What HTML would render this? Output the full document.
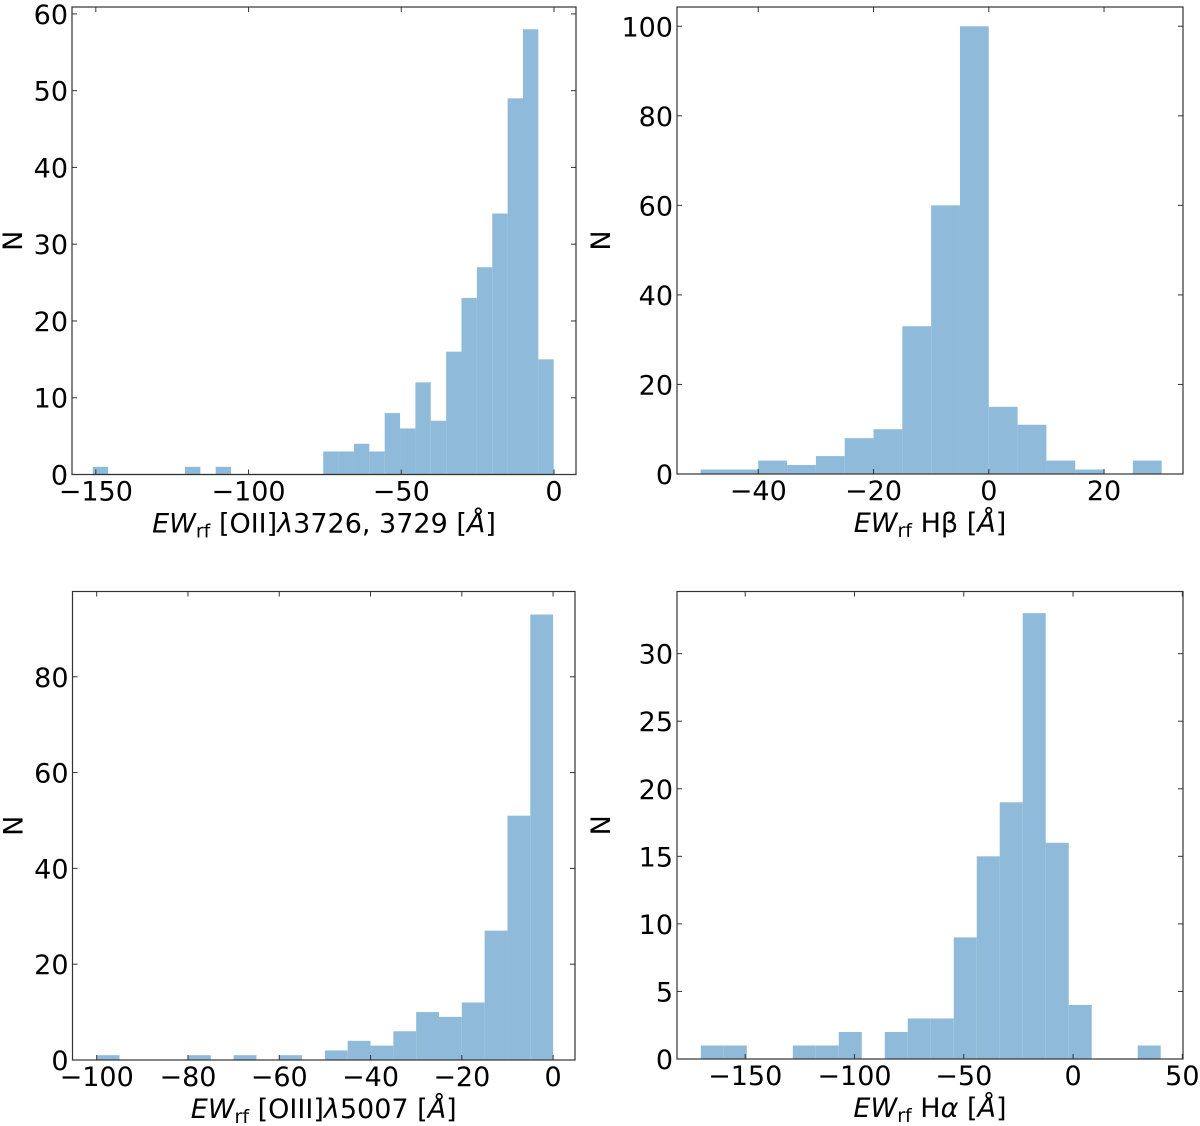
<!DOCTYPE html>
<html><head><meta charset="utf-8"><style>
html,body{margin:0;padding:0;background:#fff;}
svg{display:block;font-family:"DejaVu Sans","Liberation Sans",sans-serif;}
</style></head><body>
<svg id="fig" width="1200" height="1126" viewBox="0 0 1200 1126"></svg>
<script>
// Panel 1: [OII]
const p1Start = -151, p1Width = 5.03;
const p1Counts = [1,0,0,0,0,0,1,0,1,0,0,0,0,0,0,3,3,4,3,8,6,12,7,16,23,27,34,49,58,15];
const p1XTicks = [-150,-100,-50,0];
const p1YTicks = [0,10,20,30,40,50,60];
// Panel 2: Hbeta
const p2Start = -50, p2Width = 5;
const p2Counts = [1,1,3,2,4,8,10,33,60,100,15,11,3,1,0,3];
const p2XTicks = [-40,-20,0,20];
const p2YTicks = [0,20,40,60,80,100];
// Panel 3: [OIII]
const p3Start = -100, p3Width = 5;
const p3Counts = [1,0,0,0,1,0,1,0,1,0,2,4,3,6,10,9,12,27,51,93];
const p3XTicks = [-100,-80,-60,-40,-20,0];
const p3YTicks = [0,20,40,60,80];
// Panel 4: Halpha
const p4Start = -170.3, p4Width = 10.52;
const p4Counts = [1,1,0,0,1,1,2,0,2,3,3,9,15,19,33,16,4,0,0,1];
const p4XTicks = [-150,-100,-50,0,50];
const p4YTicks = [0,5,10,15,20,25,30];

const NS = "http://www.w3.org/2000/svg";
const svg = document.getElementById('fig');
function mk(tag, attrs, parent){ const e=document.createElementNS(NS,tag); for(const k in attrs) e.setAttribute(k,attrs[k]); (parent||svg).appendChild(e); return e; }

function panel(id, box, xr, yr, start, width, counts, xt, yt, labelHTML, baseline, nOff){
  const g = mk('g',{});
  
  
  const sx = v => box.x0 + (v - xr[0])/(xr[1]-xr[0])*(box.x1-box.x0);
  const sy = v => box.y1 - (v - yr[0])/(yr[1]-yr[0])*(box.y1-box.y0);
  counts.forEach((c,i)=>{
    if(c<=0) return;
    const a = sx(start+i*width), b = sx(start+(i+1)*width);
    const r = mk('rect',{x:a,y:sy(c),width:b-a,height:sy(0)-sy(c),fill:'#8fbad9'},g);
    
    
  });
  if(baseline){
    const l = mk('line',{x1:sx(start),x2:sx(start+counts.length*width),y1:sy(0),y2:sy(0),stroke:'#4f7fa6','stroke-width':1.2},g);
    
    
  }
  const frame = mk('rect',{x:box.x0,y:box.y0,width:box.x1-box.x0,height:box.y1-box.y0,fill:'none',stroke:'#333','stroke-width':1.2},g);
  
  
  xt.forEach(v=>{
    const x=sx(v);
    mk('line',{x1:x,x2:x,y1:box.y1,y2:box.y1-5,stroke:'#333'},g);
    mk('line',{x1:x,x2:x,y1:box.y0,y2:box.y0+5,stroke:'#333'},g);
    const t=mk('text',{x:x,y:box.y1+26,'text-anchor':'middle','font-size':27,fill:'#000'},g);
    t.textContent = (v<0?'\u2212'+(-v):String(v));
    
    
  });
  yt.forEach(v=>{
    const y=sy(v);
    mk('line',{x1:box.x0,x2:box.x0+5,y1:y,y2:y,stroke:'#333'},g);
    mk('line',{x1:box.x1,x2:box.x1-5,y1:y,y2:y,stroke:'#333'},g);
    const t=mk('text',{x:box.x0-4,y:y+10,'text-anchor':'end','font-size':27,fill:'#000'},g);
    t.textContent = String(v);
    
    
  });
  const cy=(box.y0+box.y1)/2;
  const nx=box.x0-nOff;
  const yl=mk('text',{x:nx,y:cy,'text-anchor':'middle','font-size':27,fill:'#000',transform:`rotate(-90 ${nx} ${cy})`},g);
  yl.textContent='N';
  
  
  const xl=mk('text',{x:(box.x0+box.x1)/2,y:box.y1+58,'text-anchor':'middle','font-size':27,fill:'#000'},g);
  xl.innerHTML=labelHTML;
  
  
}
const EW = '<tspan font-style="italic">EW</tspan><tspan font-size="19" dy="5">rf</tspan><tspan dy="-5"> </tspan>';
panel('oii',{x0:72,x1:576,y0:7,y1:474.5},[-157.8,7.2],[0,60.9],p1Start,p1Width,p1Counts,p1XTicks,p1YTicks,
  EW+'[OII]<tspan font-style="italic">λ</tspan>3726, 3729 [<tspan font-style="italic">Å</tspan>]', true, 50);
panel('hbeta',{x0:677,x1:1183,y0:7,y1:474},[-54.1,33.7],[0,104.3],p2Start,p2Width,p2Counts,p2XTicks,p2YTicks,
  EW+'H<tspan>β</tspan> [<tspan font-style="italic">Å</tspan>]', false, 67);
panel('oiii',{x0:72.5,x1:575,y0:591.5,y1:1060},[-105.3,4.8],[0,97.8],p3Start,p3Width,p3Counts,p3XTicks,p3YTicks,
  EW+'[OIII]<tspan font-style="italic">λ</tspan>5007 [<tspan font-style="italic">Å</tspan>]', false, 50);
panel('halpha',{x0:677,x1:1183,y0:591.5,y1:1059},[-181.2,50.3],[0,34.6],p4Start,p4Width,p4Counts,p4XTicks,p4YTicks,
  EW+'H<tspan font-style="italic">α</tspan> [<tspan font-style="italic">Å</tspan>]', false, 67);
</script>
</body></html>
